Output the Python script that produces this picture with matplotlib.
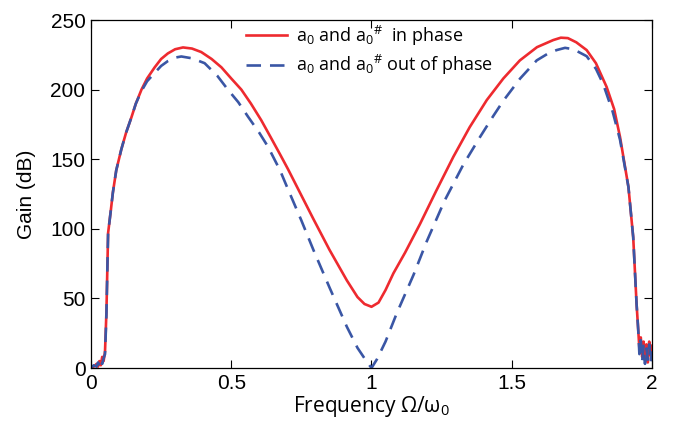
import numpy as np
import matplotlib
matplotlib.use("Agg")
import matplotlib.pyplot as plt

# Gain curves (frequency in units of omega_0, gain in dB)
freq_in = [0.0, 0.01, 0.02, 0.025, 0.03, 0.035, 0.04, 0.045, 0.05, 0.055,
           0.061, 0.07, 0.078, 0.09, 0.108, 0.125, 0.144, 0.16, 0.18, 0.2,
           0.227, 0.25, 0.274, 0.3, 0.328, 0.36, 0.393, 0.43, 0.465, 0.5,
           0.536, 0.57, 0.607, 0.64, 0.674, 0.702, 0.75, 0.793, 0.85, 0.912,
           0.95, 0.975, 1.0, 1.025, 1.05, 1.078, 1.12, 1.173, 1.23, 1.292,
           1.35, 1.411, 1.47, 1.529, 1.59, 1.648, 1.675, 1.7, 1.73, 1.767,
           1.8, 1.838, 1.865, 1.886, 1.916, 1.933, 1.945, 1.951, 1.955, 1.96,
           1.965, 1.97, 1.975, 1.98, 1.985, 1.99, 1.995, 2.0]
gain_in = [0, 1, 3, 1, 5, 2, 8, 5, 12, 40,
           97, 112, 126, 142, 157, 169, 180, 190, 200, 208,
           216, 222, 226, 229, 230.3, 229.5, 227, 222, 216, 208,
           200, 190, 178, 166, 153.5, 143, 124, 107, 85, 63,
           51, 46, 44, 47, 56, 68, 83, 103.5, 127, 151.8,
           173, 192.5, 208, 221, 230.5, 235.6, 237.3, 237, 234, 228.4,
           219, 202, 186, 166, 130, 94, 46, 27, 14, 22,
           8, 19, 6, 17, 4, 19, 9, 16]

freq_out = [0.0, 0.01, 0.02, 0.025, 0.03, 0.035, 0.04, 0.045, 0.05, 0.055,
            0.061, 0.07, 0.078, 0.09, 0.108, 0.125, 0.144, 0.16, 0.18, 0.2,
            0.227, 0.25, 0.274, 0.3, 0.322, 0.36, 0.405, 0.45, 0.488, 0.525,
            0.56, 0.6, 0.631, 0.674, 0.699, 0.75, 0.793, 0.85, 0.912, 0.95,
            0.98, 1.0, 1.02, 1.05, 1.09, 1.15, 1.197, 1.26, 1.327, 1.387,
            1.434, 1.47, 1.53, 1.589, 1.63, 1.66, 1.69, 1.72, 1.767, 1.8,
            1.826, 1.86, 1.886, 1.916, 1.933, 1.945, 1.951, 1.955, 1.96, 1.965,
            1.97, 1.975, 1.98, 1.985, 1.99, 1.995, 2.0]
gain_out = [0, 2, 1, 4, 2, 6, 3, 7, 10, 38,
            97, 112, 126, 142, 157, 169, 180, 190, 199, 206,
            212, 217, 220.5, 223, 223.8, 222.5, 219, 210, 200, 191,
            180.5, 169, 159, 142, 130, 106, 84.8, 58, 29.7, 14.5,
            5.5, 0, 6.5, 19, 39.3, 67, 91, 120, 146, 166,
            181, 192, 208, 221, 226, 228.4, 230, 229, 224, 215,
            204, 184, 164, 130, 94, 46, 27, 10, 20, 5,
            16, 3, 14, 6, 17, 4, 12]

x_ticks = [0, 0.5, 1, 1.5, 2]
x_tick_labels = ["0", "0.5", "1", "1.5", "2"]
y_ticks = [0, 50, 100, 150, 200, 250]

plt.rcParams["font.family"] = ["Liberation Sans", "DejaVu Sans"]
plt.rcParams["mathtext.default"] = "regular"

fig = plt.figure(figsize=(6.73, 4.24), dpi=100)
ax = fig.add_axes([0.1352, 0.132, 0.8336, 0.8208])

ax.plot(freq_in, gain_in, color="#ee2a2f", linewidth=1.9,
        label="a$_0$ and a$_0$$^{\\#}$  in phase")
ax.plot(freq_out, gain_out, color="#3a56a5", linewidth=1.9,
        dashes=(5.5, 3.4), label="a$_0$ and a$_0$$^{\\#}$ out of phase")

ax.set_xlim(0, 2)
ax.set_ylim(0, 250)
ax.set_xticks(x_ticks)
ax.set_xticklabels(x_tick_labels)
ax.set_yticks(y_ticks)
ax.tick_params(direction="in", top=True, right=True, labelsize=15,
               length=6, width=0.8, pad=4)
for s in ax.spines.values():
    s.set_linewidth(0.9)

ax.set_xlabel("Frequency Ω/ω$_0$", fontsize=15, labelpad=1,
              family=["Open Sans", "DejaVu Sans"])
ax.set_ylabel("Gain (dB)", fontsize=15, labelpad=10)

leg = ax.legend(loc="upper left", bbox_to_anchor=(0.276, 0.99), frameon=False,
                handlelength=2.3, handletextpad=0.5,
                labelspacing=0.3, borderpad=0, borderaxespad=0,
                prop={"family": ["Open Sans", "DejaVu Sans"], "size": 13})

fig.savefig("out.png", dpi=100)
